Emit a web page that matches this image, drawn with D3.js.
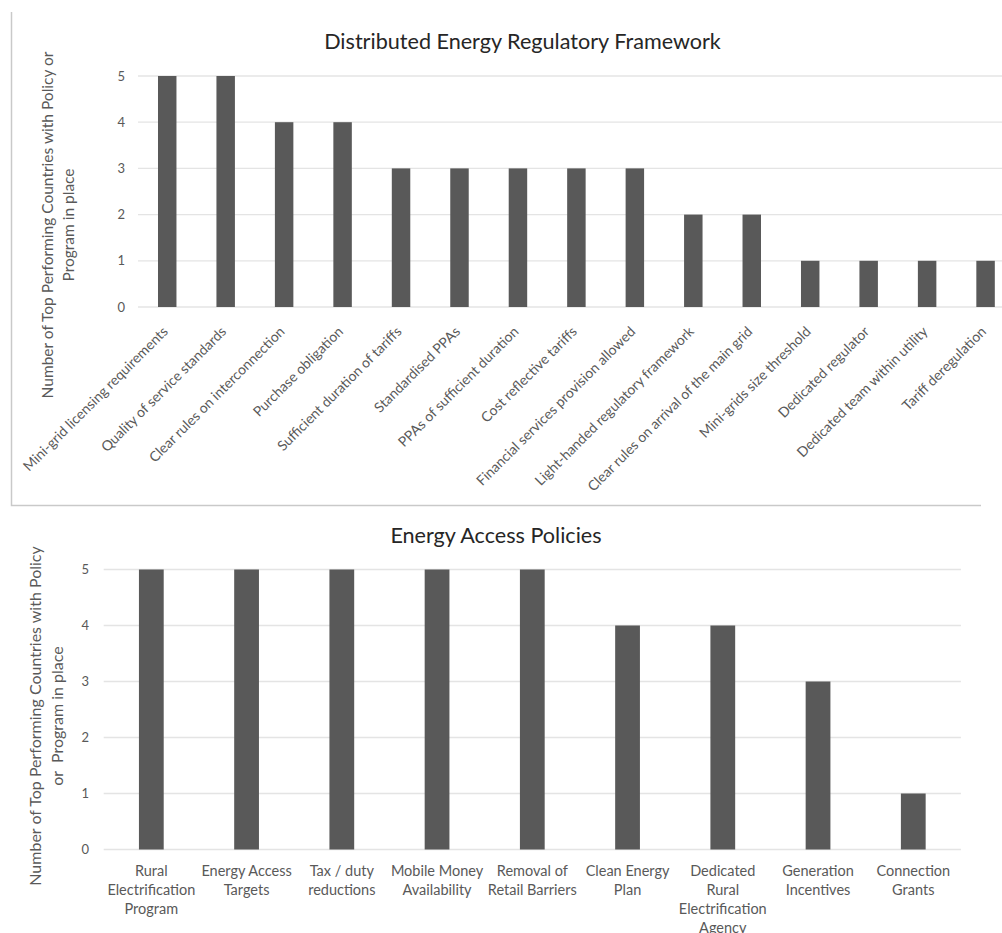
<!DOCTYPE html>
<html>
<head>
<meta charset="utf-8">
<script src="https://cdn.jsdelivr.net/npm/d3@7"></script>
<style>
  html, body { margin: 0; padding: 0; background: #ffffff; }
  svg { display: block; }
  text { font-family: Lato, "Open Sans", sans-serif; }
</style>
</head>
<body>
<svg id="chart" width="1002" height="933"></svg>
<script>
// Distributed energy regulatory framework: count of top performing countries per measure
const regCategories = [
  "Mini-grid licensing requirements",
  "Quality of service standards",
  "Clear rules on interconnection",
  "Purchase obligation",
  "Sufficient duration of tariffs",
  "Standardised PPAs",
  "PPAs of sufficient duration",
  "Cost reflective tariffs",
  "Financial services provision allowed",
  "Light-handed regulatory framework",
  "Clear rules on arrival of the main grid",
  "Mini-grids size threshold",
  "Dedicated regulator",
  "Dedicated team within utility",
  "Tariff deregulation"
];
const regValues = [5, 5, 4, 4, 3, 3, 3, 3, 3, 2, 2, 1, 1, 1, 1];

// Energy access policies: count of top performing countries per policy
const accessCategories = [
  ["Rural", "Electrification", "Program"],
  ["Energy Access", "Targets"],
  ["Tax / duty", "reductions"],
  ["Mobile Money", "Availability"],
  ["Removal of", "Retail Barriers"],
  ["Clean Energy", "Plan"],
  ["Dedicated", "Rural", "Electrification", "Agency"],
  ["Generation", "Incentives"],
  ["Connection", "Grants"]
];
const accessValues = [5, 5, 5, 5, 5, 4, 4, 3, 1];

const yTicks = [0, 1, 2, 3, 4, 5];

const titles = ["Distributed Energy Regulatory Framework", "Energy Access Policies"];
const regAxisTitle = ["Number of Top Performing Countries with Policy or", "Program in place"];
const accessAxisTitle = ["Number of Top Performing Countries with Policy", "or  Program in place"];

const BAR = "#595959";
const GRID = "#e4e4e4";
const TEXT = "#595959";
const TITLE = "#262626";

const svg = d3.select("#chart");

// ---------- Top chart ----------
{
  const g = svg.append("g");

  // frame (left and bottom edges)
  g.append("path")
    .attr("d", "M11.5,12 V505.5 H981")
    .attr("fill", "none")
    .attr("stroke", "#c9c9c9")
    .attr("stroke-width", 1.5);

  const x = d3.scaleBand()
    .domain(regCategories)
    .range([138, 1014.8])
    .paddingInner(0.684)
    .paddingOuter(0.342);
  const y = d3.scaleLinear().domain([0, 5]).range([307, 76]);

  g.append("g").selectAll("line").data(yTicks).join("line")
    .attr("x1", 138).attr("x2", 1002)
    .attr("y1", d => y(d)).attr("y2", d => y(d))
    .attr("stroke", GRID).attr("stroke-width", 1.3);

  g.append("g").selectAll("text").data(yTicks).join("text")
    .attr("x", 125).attr("y", d => y(d)).attr("dy", "0.35em")
    .attr("text-anchor", "end")
    .attr("font-size", 13).attr("fill", TEXT)
    .text(d => d);

  g.append("g").selectAll("rect").data(regCategories).join("rect")
    .attr("x", d => x(d))
    .attr("width", x.bandwidth())
    .attr("y", (d, i) => y(regValues[i]))
    .attr("height", (d, i) => y(0) - y(regValues[i]))
    .attr("fill", BAR);

  g.append("g").selectAll("text").data(regCategories).join("text")
    .attr("transform", d => `translate(${x(d) + x.bandwidth() / 2 - 2},${y(0) + 22}) rotate(-45)`)
    .attr("text-anchor", "end")
    .attr("dy", "0.35em")
    .attr("font-size", 14).attr("fill", TEXT)
    .text(d => d);

  g.append("text")
    .attr("x", 522.5).attr("y", 49)
    .attr("text-anchor", "middle")
    .attr("font-size", 21.6).attr("fill", TITLE)
    .text(titles[0]);

  const yt = g.append("text")
    .attr("transform", "translate(0,225) rotate(-90)")
    .attr("text-anchor", "middle")
    .attr("font-size", 15.5).attr("fill", TEXT);
  yt.selectAll("tspan").data(regAxisTitle).join("tspan")
    .attr("x", 0).attr("y", (d, i) => [48, 69][i]).attr("dy", "0.35em")
    .text(d => d);
}

// ---------- Bottom chart ----------
{
  const g = svg.append("g");

  const x = d3.scaleBand()
    .domain(d3.range(accessCategories.length))
    .range([103.7, 960.9])
    .paddingInner(0.74)
    .paddingOuter(0.37);
  const y = d3.scaleLinear().domain([0, 5]).range([849.5, 569.5]);

  g.append("g").selectAll("line").data(yTicks).join("line")
    .attr("x1", 103.7).attr("x2", 960.9)
    .attr("y1", d => y(d)).attr("y2", d => y(d))
    .attr("stroke", GRID).attr("stroke-width", 1.3);

  g.append("g").selectAll("text").data(yTicks).join("text")
    .attr("x", 89).attr("y", d => y(d)).attr("dy", "0.35em")
    .attr("text-anchor", "end")
    .attr("font-size", 13).attr("fill", TEXT)
    .text(d => d);

  g.append("g").selectAll("rect").data(accessValues).join("rect")
    .attr("x", (d, i) => x(i))
    .attr("width", x.bandwidth())
    .attr("y", d => y(d))
    .attr("height", d => y(0) - y(d))
    .attr("fill", BAR);

  const lbl = g.append("g").selectAll("text").data(accessCategories).join("text")
    .attr("text-anchor", "middle")
    .attr("font-size", 14.5).attr("fill", TEXT);
  lbl.each(function (lines, i) {
    const cx = x(i) + x.bandwidth() / 2;
    d3.select(this).selectAll("tspan").data(lines).join("tspan")
      .attr("x", cx)
      .attr("y", (d, k) => y(0) + 21 + k * 19)
      .attr("dy", "0.35em")
      .text(d => d);
  });

  g.append("text")
    .attr("x", 496).attr("y", 543)
    .attr("text-anchor", "middle")
    .attr("font-size", 21.6).attr("fill", TITLE)
    .text(titles[1]);

  const yt = g.append("text")
    .attr("transform", "translate(0,716) rotate(-90)")
    .attr("text-anchor", "middle")
    .attr("font-size", 16).attr("fill", TEXT)
    .style("white-space", "pre");
  yt.selectAll("tspan").data(accessAxisTitle).join("tspan")
    .attr("x", 0).attr("y", (d, i) => [35, 57][i]).attr("dy", "0.35em")
    .text(d => d);
}
</script>
</body>
</html>
